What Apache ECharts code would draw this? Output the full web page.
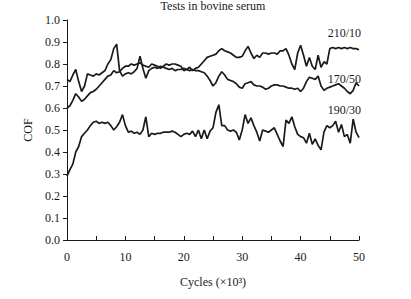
<!DOCTYPE html>
<html>
<head>
<meta charset="utf-8">
<script src="https://cdn.jsdelivr.net/npm/echarts@6/dist/echarts.min.js"></script>
<style>
html,body{margin:0;padding:0;background:#fff;}
#c{width:411px;height:299px;}
</style>
</head>
<body>
<div id="c"></div>
<script>
const cycles = [0,0.5,1,1.5,2,2.5,3,3.5,4,4.5,5,5.5,6,6.5,7,7.5,8,8.5,9,9.5,10,10.5,11,11.5,12,12.5,13,13.5,14,14.5,15,15.5,16,16.5,17,17.5,18,18.5,19,19.5,20,20.5,21,21.5,22,22.5,23,23.5,24,24.5,25,25.5,26,26.5,27,27.5,28,28.5,29,29.5,30,30.5,31,31.5,32,32.5,33,33.5,34,34.5,35,35.5,36,36.5,37,37.5,38,38.5,39,39.5,40,40.5,41,41.5,42,42.5,43,43.5,44,44.5,45,45.5,46,46.5,47,47.5,48,48.5,49,49.5,50];

const cof210_10 = [0.60,0.61,0.635,0.665,0.65,0.63,0.64,0.655,0.67,0.675,0.685,0.70,0.715,0.73,0.745,0.75,0.77,0.76,0.765,0.78,0.79,0.79,0.80,0.795,0.80,0.805,0.795,0.79,0.785,0.80,0.795,0.79,0.78,0.79,0.80,0.795,0.80,0.80,0.795,0.79,0.77,0.775,0.785,0.77,0.78,0.785,0.80,0.815,0.83,0.835,0.84,0.845,0.86,0.87,0.86,0.855,0.85,0.84,0.83,0.83,0.835,0.86,0.88,0.85,0.825,0.84,0.83,0.85,0.85,0.845,0.85,0.85,0.845,0.86,0.86,0.87,0.84,0.80,0.775,0.85,0.885,0.84,0.79,0.83,0.79,0.775,0.84,0.785,0.81,0.80,0.87,0.875,0.87,0.875,0.87,0.875,0.87,0.875,0.87,0.87,0.865];

const cof170_50 = [0.73,0.72,0.75,0.775,0.72,0.675,0.70,0.755,0.75,0.745,0.755,0.75,0.76,0.77,0.80,0.82,0.87,0.89,0.77,0.745,0.755,0.76,0.755,0.765,0.78,0.835,0.78,0.735,0.77,0.78,0.785,0.78,0.79,0.785,0.78,0.775,0.78,0.77,0.775,0.775,0.78,0.775,0.77,0.775,0.77,0.77,0.765,0.76,0.745,0.725,0.70,0.715,0.745,0.765,0.75,0.73,0.725,0.72,0.71,0.695,0.69,0.71,0.715,0.72,0.705,0.70,0.70,0.695,0.685,0.69,0.70,0.705,0.705,0.70,0.70,0.695,0.69,0.69,0.685,0.69,0.675,0.69,0.72,0.74,0.735,0.73,0.745,0.70,0.68,0.69,0.695,0.70,0.705,0.71,0.70,0.69,0.675,0.665,0.68,0.715,0.70];

const cof190_30 = [0.29,0.32,0.345,0.40,0.425,0.47,0.485,0.50,0.52,0.535,0.54,0.53,0.535,0.53,0.535,0.52,0.50,0.515,0.535,0.57,0.52,0.49,0.495,0.485,0.49,0.48,0.50,0.56,0.47,0.485,0.48,0.485,0.485,0.49,0.49,0.49,0.495,0.49,0.48,0.47,0.48,0.485,0.48,0.495,0.47,0.50,0.46,0.50,0.46,0.495,0.51,0.58,0.615,0.52,0.52,0.50,0.495,0.50,0.49,0.455,0.50,0.57,0.53,0.555,0.52,0.49,0.45,0.50,0.495,0.49,0.50,0.51,0.48,0.45,0.425,0.545,0.53,0.56,0.515,0.48,0.47,0.465,0.44,0.485,0.435,0.46,0.43,0.41,0.49,0.52,0.51,0.52,0.54,0.49,0.525,0.47,0.48,0.44,0.55,0.49,0.465];

const seriesNames = ['210/10','170/50','190/30'];
const yTicks = [0,0.1,0.2,0.3,0.4,0.5,0.6,0.7,0.8,0.9,1.0];
const xTickLabels = [0,10,20,30,40,50];

const FONT = "'Liberation Serif','DejaVu Serif',serif";
const INK = '#1a1a1a';

function pairs(ys){ return cycles.map((x,i)=>[x, ys[i]]); }

const chart = echarts.init(document.getElementById('c'), null, {renderer:'svg'});
const lineStyle = {color: INK, width: 1.7};
chart.setOption({
  animation: false,
  backgroundColor: '#fff',
  grid: {left: 67, right: 52, top: 20, bottom: 59},
  xAxis: {
    type: 'value', min: 0, max: 50, interval: 5,
    name: 'Cycles (×10³)', nameLocation: 'middle', nameGap: 36,
    nameTextStyle: {fontFamily: FONT, fontSize: 12, color: INK},
    axisLine: {show: true, lineStyle: {color: INK, width: 1}},
    axisTick: {show: true, inside: true, length: 4, lineStyle: {color: INK}},
    axisLabel: {fontFamily: FONT, fontSize: 12, color: INK, margin: 11,
      formatter: v => xTickLabels.indexOf(v) >= 0 ? String(v) : ''},
    splitLine: {show: false}
  },
  yAxis: {
    type: 'value', min: 0, max: 1, interval: 0.1,
    name: 'COF', nameLocation: 'middle', nameGap: 31,
    nameTextStyle: {fontFamily: FONT, fontSize: 12, color: INK},
    axisLine: {show: true, lineStyle: {color: INK, width: 1}},
    axisTick: {show: true, inside: false, length: 4, lineStyle: {color: INK}},
    axisLabel: {fontFamily: FONT, fontSize: 12, color: INK, margin: 7,
      formatter: v => { const t = yTicks.find(k => Math.abs(k - v) < 1e-6); return t === undefined ? '' : t.toFixed(1); }},
    splitLine: {show: false}
  },
  series: [
    {name: seriesNames[0], type: 'line', data: pairs(cof210_10), showSymbol: false, lineStyle: lineStyle},
    {name: seriesNames[1], type: 'line', data: pairs(cof170_50), showSymbol: false, lineStyle: lineStyle},
    {name: seriesNames[2], type: 'line', data: pairs(cof190_30), showSymbol: false, lineStyle: lineStyle}
  ],
  graphic: [
    {type: 'text', x: 213, y: 0, style: {text: 'Tests in bovine serum', font: "12px " + FONT, fill: INK, textAlign: 'center', textVerticalAlign: 'top'}},
    {type: 'text', right: 50, top: 27, style: {text: seriesNames[0], font: "12px " + FONT, fill: INK}},
    {type: 'text', right: 50, top: 73, style: {text: seriesNames[1], font: "12px " + FONT, fill: INK}},
    {type: 'text', right: 50, top: 104, style: {text: seriesNames[2], font: "12px " + FONT, fill: INK}}
  ]
});
</script>
</body>
</html>
